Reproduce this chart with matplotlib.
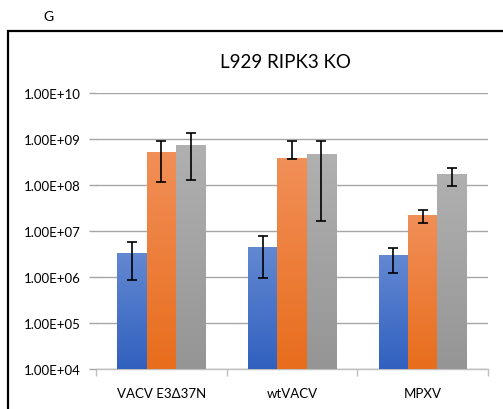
import numpy as np
import matplotlib.pyplot as plt
from matplotlib.patches import Rectangle
from matplotlib.colors import LinearSegmentedColormap
from matplotlib.ticker import FixedLocator, FuncFormatter

plt.rcParams['font.family'] = ['Lato', 'DejaVu Sans']

# data
groups = ['VACV E3Δ37N', 'wtVACV', 'MPXV']
s1 = [3.2e6, 4.3e6, 2.9e6]
s1_lo = [8.5e5, 9.7e5, 1.24e6]
s1_hi = [5.7e6, 7.9e6, 4.3e6]
s2 = [5.0e8, 3.7e8, 2.2e7]
s2_lo = [1.15e8, 3.7e8, 1.5e7]
s2_hi = [8.9e8, 8.9e8, 2.9e7]
s3 = [7.4e8, 4.7e8, 1.73e8]
s3_lo = [1.26e8, 1.62e7, 9.7e7]
s3_hi = [1.33e9, 9.2e8, 2.4e8]
yticks = [1e4, 1e5, 1e6, 1e7, 1e8, 1e9, 1e10]

series = [(s1, s1_lo, s1_hi, '#3161bf', '#6388d2'),
          (s2, s2_lo, s2_hi, '#e86d1c', '#f18f58'),
          (s3, s3_lo, s3_hi, '#959595', '#b0b0b0')]

fig = plt.figure(figsize=(5.03, 4.10), dpi=100)
ax = fig.add_axes([96/503, 40/410, 392/503, 276/410])
ax.set_yscale('log')
ax.set_xlim(-0.5, 2.5)
ax.set_ylim(1e4, 1e10)

x = np.arange(len(groups))
w = 0.225
to_axes = ax.transData + ax.transAxes.inverted()
grads = []
for i, (vals, lo, hi, c_bot, c_top) in enumerate(series):
    pos = x + (i - 1) * w
    ax.bar(pos, vals, w, color=c_bot, zorder=2)
    yerr = [np.array(vals) - np.array(lo), np.array(hi) - np.array(vals)]
    ax.errorbar(pos, vals, yerr=yerr, fmt='none', ecolor='black',
                elinewidth=1.2, capsize=3.5, capthick=1.2, zorder=4)
    cmap = LinearSegmentedColormap.from_list('g%d' % i, [c_bot, c_top])
    for p, v in zip(pos, vals):
        (a0, b0) = to_axes.transform((p - w / 2, 1e4))
        (a1, b1) = to_axes.transform((p + w / 2, v))
        grads.append((cmap, [a0, a1, b0, b1]))

g = np.linspace(0, 1, 128).reshape(-1, 1)
for cmap, ext in grads:
    ax.imshow(g, extent=ext, transform=ax.transAxes, cmap=cmap,
              origin='lower', aspect='auto', zorder=3)

ax.set_xlim(-0.5, 2.5)
ax.set_ylim(1e4, 1e10)

ax.yaxis.set_major_locator(FixedLocator(yticks))
ax.yaxis.set_minor_locator(FixedLocator([]))
ax.yaxis.set_major_formatter(FuncFormatter(lambda v, p: '%.2E' % v))
ax.tick_params(axis='y', length=5, width=1, color='#a6a6a6', pad=6, labelsize=9.5)
ax.grid(axis='y', color='#a6a6a6', linewidth=1.0)
ax.set_axisbelow(True)

ax.set_xticks(x)
ax.set_xticklabels(groups)
ax.set_xticks([-0.5, 0.5, 1.5, 2.5], minor=True)
ax.tick_params(axis='x', which='major', length=0, pad=13, labelsize=9.5)
ax.tick_params(axis='x', which='minor', length=5, color='#bfbfbf', width=1)

for s in ['top', 'right', 'left']:
    ax.spines[s].set_visible(False)
ax.spines['bottom'].set_color('#bfbfbf')
ax.spines['bottom'].set_linewidth(1)

fig.text(285/503, 1 - 62/410, 'L929 RIPK3 KO', ha='center', va='center', fontsize=13.5)
fig.text(48/503, 1 - 17/410, 'G', ha='center', va='center', fontsize=10)
fig.add_artist(Rectangle((8/503, -0.2), 1.2, 1.2 - 32/410,
                         transform=fig.transFigure, fill=False,
                         edgecolor='black', linewidth=1.6))

fig.savefig('out.png', dpi=100)
